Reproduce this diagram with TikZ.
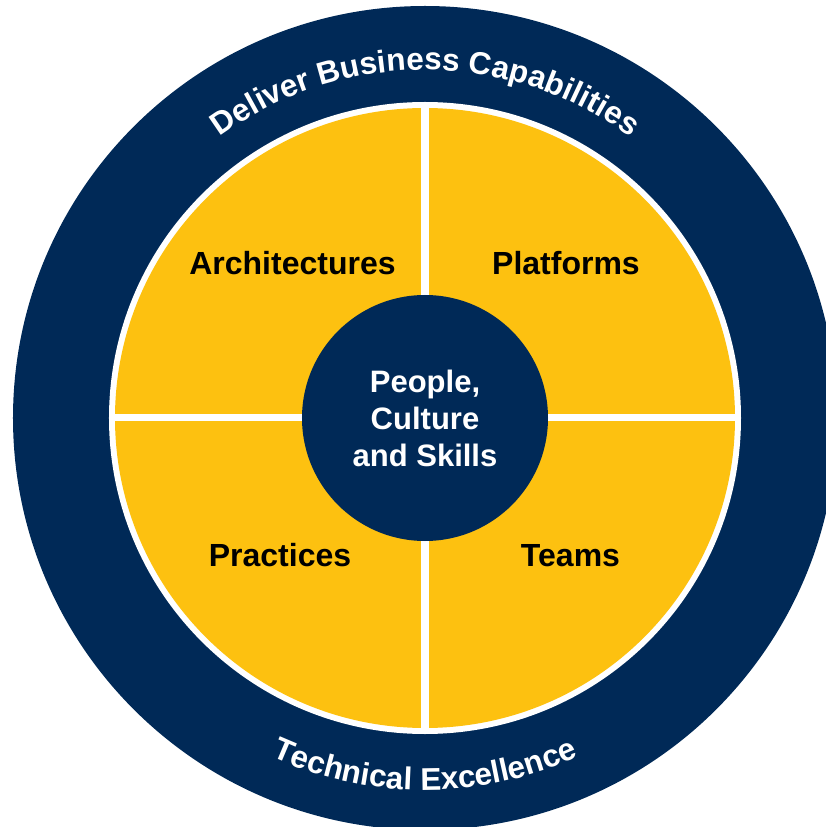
\documentclass[tikz,border=0pt]{standalone}
\usepackage{fontspec}
\setmainfont{Liberation Sans}
\usetikzlibrary{decorations.text}
\definecolor{navy}{RGB}{0,41,87}
\definecolor{gold}{RGB}{253,193,16}
\begin{document}
\begin{tikzpicture}[x=1pt,y=1pt,
  lbl/.style={font=\fontsize{32}{37}\selectfont\bfseries, text=black, align=center, anchor=base, inner sep=0},
  divider/.style={draw=white, line width=7},
  ringtext/.style={decorate, decoration={text along path, text align=center,
     text={|\fontsize{31.5}{31.5}\selectfont\bfseries\color{white}|#1}}}]
\useasboundingbox (-425,-409) rectangle (400,418);
% rings
\fill[navy] (0,0) circle[radius=412];
\fill[white] (0,0) circle[radius=316];
\fill[gold] (0,0) circle[radius=310];
% dividers
\coordinate (N) at (90:312);
\coordinate (S) at (270:312);
\coordinate (E) at (0:312);
\coordinate (W) at (180:312);
\draw[divider] (W) -- (E);
\draw[divider] (N) -- (S);
% core
\node[circle, fill=navy, minimum size=246, inner sep=0, text=white,
  font=\fontsize{31}{37}\selectfont\bfseries, align=center] (core) at (0,0)
  {People,\\Culture\\and Skills};
% quadrant labels
\node[lbl] (arch) at (-132.5,143) {Architectures};
\node[lbl] (plat) at (141,143) {Platforms};
\node[lbl] (prac) at (-145,-148) {Practices};
\node[lbl] (team) at (145.5,-148) {Teams};
% curved texts
\path[ringtext={Deliver Business Capabilities}] (180:348) arc[start angle=180, end angle=0, radius=348];
\path[ringtext={Technical Excellence}] (180:372) arc[start angle=180, end angle=360, radius=372];
\end{tikzpicture}
\end{document}
